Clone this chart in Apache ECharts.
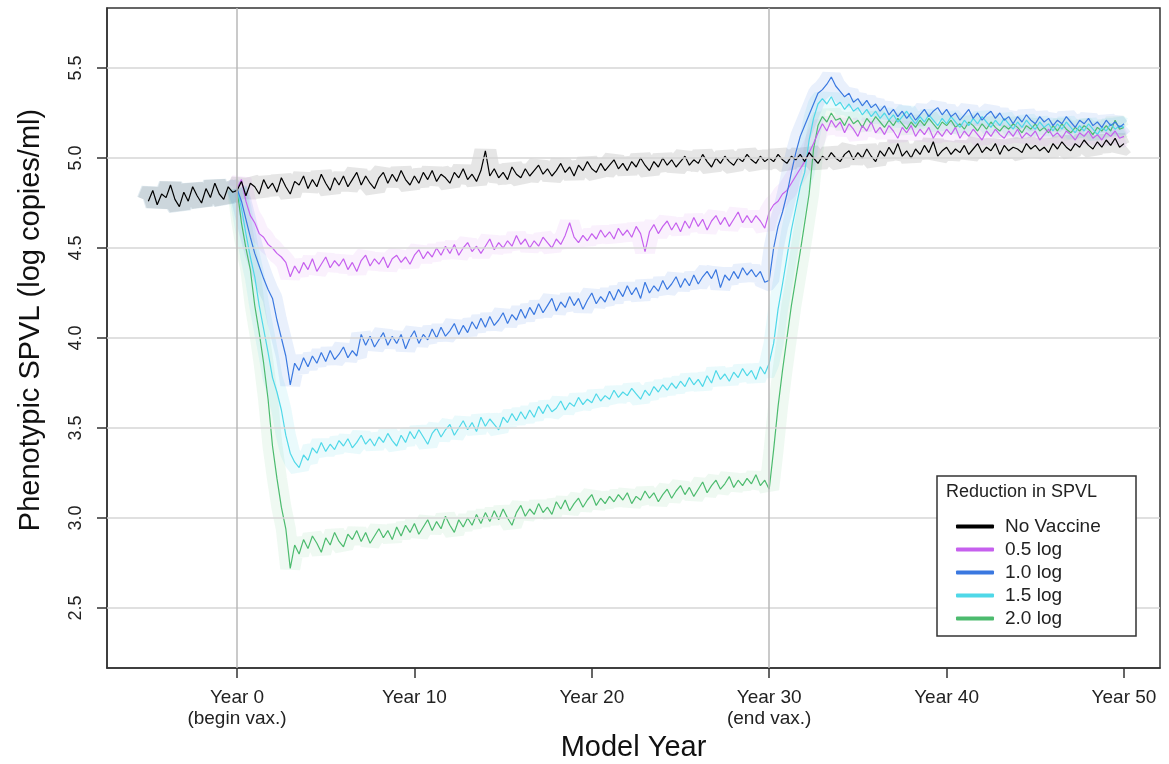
<!DOCTYPE html>
<html>
<head>
<meta charset="utf-8">
<script src="https://cdn.jsdelivr.net/npm/echarts@6/dist/echarts.min.js"></script>
<style>
html,body{margin:0;padding:0;background:#fff;}
#chart{width:1169px;height:764px;}
</style>
</head>
<body>
<div id="chart"></div>
<script>
// ---- data (quarter-year samples) ----
const STEP = 0.25;
const startNoVax = -5;
const startVax = 0;

const noVaccine = [
4.76,4.82,4.74,4.80, 4.78,4.85,4.77,4.73, 4.81,4.76,4.84,4.79, 4.75,4.83,4.78,4.86, 4.80,4.77,4.84,4.81,
4.82,4.87,4.79,4.86, 4.84,4.80,4.88,4.83, 4.86,4.81,4.89,4.84, 4.80,4.87,4.85,4.90, 4.83,4.88,4.84,4.91,
4.86,4.82,4.89,4.85, 4.90,4.84,4.88,4.92, 4.85,4.90,4.86,4.83, 4.89,4.92,4.86,4.91, 4.87,4.93,4.88,4.85,
4.90,4.86,4.92,4.88, 4.93,4.87,4.91,4.89, 4.86,4.92,4.89,4.94, 4.88,4.91,4.87,4.93, 5.04,4.90,4.94,4.89,
4.92,4.88,4.95,4.91, 4.89,4.94,4.90,4.93, 4.96,4.91,4.94,4.90, 4.93,4.97,4.92,4.95, 4.90,4.96,4.93,4.98,
4.94,4.92,4.97,4.93, 4.96,4.99,4.94,4.97, 4.93,4.98,4.95,5.00, 4.96,4.93,4.98,4.95, 5.00,4.96,4.99,4.95,
4.98,5.01,4.96,4.99, 4.97,5.02,4.98,4.95, 5.00,4.97,5.01,4.98, 4.96,5.00,4.98,5.02, 4.99,4.97,5.01,4.98,
5.00,4.98,5.02,4.99, 4.97,5.01,4.99,5.02, 4.98,5.03,5.00,4.97, 5.01,4.99,5.03,5.00, 4.98,5.02,5.04,4.99,
5.03,5.00,5.05,5.01, 4.98,5.04,5.01,5.06, 5.02,5.08,5.01,5.04, 5.00,5.05,5.02,5.07, 5.03,5.09,5.01,5.04,
5.06,5.02,5.05,5.03, 5.07,5.02,5.05,5.08, 5.03,5.06,5.04,5.08, 5.02,5.07,5.04,5.06, 5.05,5.03,5.08,5.05,
5.07,5.04,5.06,5.03, 5.08,5.05,5.09,5.06, 5.04,5.08,5.06,5.10, 5.07,5.05,5.09,5.06, 5.10,5.07,5.11,5.06,
5.08];

const log05 = [
4.83,4.88,4.76,4.68, 4.64,4.58,4.56,4.52, 4.50,4.47,4.45,4.42, 4.34,4.40,4.36,4.42, 4.38,4.44,4.37,4.41,
4.45,4.39,4.43,4.40, 4.44,4.38,4.42,4.37, 4.43,4.46,4.40,4.44, 4.41,4.45,4.39,4.44, 4.46,4.42,4.45,4.41,
4.46,4.49,4.44,4.48, 4.45,4.50,4.46,4.51, 4.47,4.52,4.46,4.50, 4.53,4.48,4.51,4.47, 4.51,4.55,4.49,4.53,
4.50,4.54,4.51,4.57, 4.52,4.55,4.50,4.54, 4.51,4.56,4.53,4.50, 4.55,4.52,4.57,4.64, 4.56,4.53,4.57,4.54,
4.58,4.55,4.60,4.56, 4.59,4.55,4.61,4.57, 4.60,4.56,4.62,4.58, 4.48,4.59,4.63,4.58, 4.62,4.65,4.60,4.64,
4.59,4.65,4.61,4.67, 4.62,4.66,4.60,4.65, 4.68,4.63,4.67,4.62, 4.66,4.70,4.64,4.68, 4.64,4.68,4.65,4.61,
4.70,4.74,4.76,4.80, 4.82,4.86,4.90,4.94, 4.98,5.03,5.08,5.14, 5.19,5.15,5.21,5.17, 5.20,5.14,5.19,5.16,
5.12,5.18,5.15,5.20, 5.14,5.17,5.13,5.18, 5.15,5.11,5.17,5.14, 5.18,5.12,5.16,5.13, 5.17,5.11,5.15,5.12,
5.16,5.13,5.17,5.11, 5.15,5.12,5.16,5.13, 5.10,5.15,5.12,5.16, 5.13,5.11,5.15,5.12, 5.16,5.11,5.14,5.12,
5.15,5.10,5.13,5.16, 5.12,5.14,5.11,5.15, 5.13,5.10,5.14,5.12, 5.15,5.11,5.13,5.10, 5.14,5.12,5.15,5.11,
5.12];

const log10 = [
4.83,4.76,4.66,4.56, 4.47,4.40,4.33,4.27, 4.22,4.10,4.00,3.90, 3.74,3.86,3.82,3.89, 3.84,3.90,3.86,3.92,
3.87,3.93,3.88,3.91, 3.95,3.89,3.93,3.90, 4.02,3.96,4.01,3.95, 3.99,4.03,3.96,4.01, 3.97,4.02,3.94,4.00,
4.04,3.97,4.02,3.99, 4.05,4.00,4.06,4.01, 4.04,4.08,4.02,4.07, 4.03,4.09,4.05,4.11, 4.06,4.12,4.07,4.10,
4.14,4.08,4.13,4.10, 4.16,4.11,4.17,4.13, 4.19,4.14,4.18,4.22, 4.15,4.20,4.17,4.23, 4.18,4.22,4.16,4.21,
4.25,4.19,4.23,4.20, 4.26,4.21,4.27,4.23, 4.29,4.24,4.28,4.22, 4.31,4.25,4.29,4.26, 4.32,4.27,4.30,4.34,
4.28,4.33,4.29,4.35, 4.30,4.34,4.37,4.33, 4.38,4.28,4.35,4.32, 4.37,4.33,4.39,4.35, 4.38,4.34,4.37,4.31,
4.32,4.50,4.62,4.70, 4.80,4.92,5.03,5.12, 5.18,5.24,5.30,5.36, 5.38,5.41,5.45,5.40, 5.37,5.34,5.36,5.31,
5.33,5.29,5.32,5.28, 5.30,5.26,5.29,5.24, 5.27,5.23,5.26,5.22, 5.25,5.21,5.24,5.27, 5.23,5.26,5.28,5.24,
5.27,5.23,5.25,5.21, 5.24,5.27,5.22,5.25, 5.21,5.24,5.26,5.22, 5.25,5.21,5.23,5.19, 5.23,5.20,5.24,5.21,
5.19,5.23,5.20,5.22, 5.18,5.21,5.19,5.23, 5.20,5.17,5.21,5.19, 5.22,5.18,5.20,5.17, 5.21,5.18,5.20,5.17,
5.19];

const log15 = [
4.83,4.72,4.58,4.45, 4.34,4.18,4.05,3.92, 3.78,3.70,3.60,3.46, 3.36,3.31,3.28,3.35, 3.32,3.39,3.36,3.42,
3.37,3.41,3.38,3.43, 3.40,3.44,3.39,3.42, 3.46,3.41,3.44,3.40, 3.45,3.42,3.47,3.43, 3.40,3.46,3.42,3.48,
3.44,3.49,3.45,3.41, 3.47,3.50,3.45,3.49, 3.52,3.46,3.50,3.54, 3.49,3.53,3.48,3.56, 3.51,3.55,3.52,3.49,
3.56,3.53,3.58,3.54, 3.59,3.55,3.60,3.56, 3.62,3.58,3.63,3.59, 3.61,3.65,3.60,3.64, 3.62,3.67,3.63,3.66,
3.64,3.69,3.65,3.68, 3.66,3.71,3.67,3.70, 3.68,3.72,3.69,3.66, 3.71,3.68,3.73,3.70, 3.74,3.71,3.75,3.72,
3.76,3.73,3.78,3.74, 3.77,3.73,3.79,3.75, 3.82,3.77,3.80,3.76, 3.81,3.78,3.83,3.79, 3.82,3.77,3.84,3.80,
3.86,3.97,4.16,4.30, 4.45,4.60,4.72,4.84, 4.92,5.10,5.22,5.30, 5.33,5.30,5.34,5.29, 5.31,5.27,5.30,5.26,
5.28,5.24,5.27,5.23, 5.26,5.22,5.25,5.21, 5.24,5.20,5.23,5.26, 5.22,5.19,5.23,5.20, 5.24,5.21,5.18,5.22,
5.19,5.23,5.20,5.17, 5.21,5.18,5.22,5.19, 5.23,5.20,5.17,5.21, 5.18,5.22,5.19,5.16, 5.20,5.17,5.21,5.18,
5.16,5.20,5.17,5.19, 5.15,5.19,5.16,5.20, 5.17,5.14,5.18,5.15, 5.19,5.16,5.13,5.17, 5.15,5.19,5.16,5.18,
5.17];

const log20 = [
4.83,4.64,4.50,4.38, 4.18,4.03,3.86,3.66, 3.40,3.22,3.06,2.94, 2.72,2.85,2.80,2.88, 2.83,2.90,2.86,2.81,
2.89,2.85,2.92,2.87, 2.84,2.91,2.88,2.93, 2.87,2.92,2.86,2.90, 2.94,2.89,2.93,2.88, 2.95,2.90,2.96,2.92,
2.97,2.91,2.95,2.99, 2.93,2.98,2.94,3.01, 2.96,2.92,2.99,2.95, 3.00,2.96,3.02,2.97, 3.03,2.98,3.04,2.99,
3.05,3.00,2.96,3.03, 3.07,3.01,3.05,3.02, 3.08,3.03,3.06,3.02, 3.09,3.05,3.10,3.04, 3.08,3.11,3.06,3.10,
3.13,3.07,3.11,3.08, 3.12,3.09,3.13,3.10, 3.14,3.08,3.12,3.10, 3.15,3.11,3.14,3.09, 3.13,3.16,3.11,3.15,
3.18,3.13,3.17,3.12, 3.16,3.20,3.14,3.18, 3.21,3.16,3.19,3.23, 3.17,3.21,3.18,3.22, 3.19,3.24,3.18,3.21,
3.16,3.38,3.62,3.82, 4.00,4.18,4.33,4.48, 4.64,4.80,5.05,5.18, 5.23,5.20,5.25,5.21, 5.22,5.18,5.23,5.19,
5.21,5.17,5.22,5.19, 5.23,5.20,5.17,5.21, 5.18,5.22,5.19,5.16, 5.20,5.17,5.21,5.18, 5.22,5.19,5.16,5.20,
5.18,5.21,5.17,5.19, 5.16,5.20,5.18,5.15, 5.19,5.16,5.20,5.17, 5.15,5.18,5.16,5.19, 5.17,5.14,5.18,5.16,
5.19,5.15,5.17,5.14, 5.18,5.15,5.19,5.16, 5.14,5.17,5.15,5.18, 5.16,5.13,5.17,5.15, 5.18,5.15,5.21,5.16,
5.17];

const seriesNames = ['No Vaccine', '0.5 log', '1.0 log', '1.5 log', '2.0 log'];
const xTicks = [0, 10, 20, 30, 40, 50];
const xTickLabels = ['Year 0\n(begin vax.)', 'Year 10', 'Year 20', 'Year 30\n(end vax.)', 'Year 40', 'Year 50'];
const yTicks = [2.5, 3.0, 3.5, 4.0, 4.5, 5.0, 5.5];
const yTickLabels = ['2.5', '3.0', '3.5', '4.0', '4.5', '5.0', '5.5'];
const vLines = [0, 30];

// ---- build ----
function pairs(start, arr) { return arr.map((v, i) => [start + i * STEP, v]); }

const colors = {
  'No Vaccine': '#000000',
  '0.5 log': '#c660ee',
  '1.0 log': '#3a78e0',
  '1.5 log': '#4fd8e8',
  '2.0 log': '#4cbb6e'
};
const bandColors = {
  'No Vaccine': 'rgba(160,160,160,0.26)',
  '0.5 log': 'rgba(198,96,238,0.09)',
  '1.0 log': 'rgba(58,120,224,0.11)',
  '1.5 log': 'rgba(79,216,232,0.12)',
  '2.0 log': 'rgba(76,187,110,0.09)'
};
const dataMap = {
  'No Vaccine': pairs(startNoVax, noVaccine),
  '0.5 log': pairs(startVax, log05),
  '1.0 log': pairs(startVax, log10),
  '1.5 log': pairs(startVax, log15),
  '2.0 log': pairs(startVax, log20)
};
// pre-vaccination part of the no-vaccine run (all scenarios overlap here)
const preVax = dataMap['No Vaccine'].filter(p => p[0] <= 0);

const series = [];
series.push({
  type: 'line', name: '_grid', data: [], silent: true, z: 1,
  markLine: {
    silent: true, symbol: 'none', label: { show: false },
    data: yTicks.map(v => ({ yAxis: v, lineStyle: { color: '#d6d6d6', width: 1.5, type: 'solid' } }))
      .concat(vLines.map(v => ({ xAxis: v, lineStyle: { color: '#b8b8b8', width: 1.5, type: 'solid' } })))
  }
});
['No Vaccine', '2.0 log', '1.5 log', '0.5 log', '1.0 log'].forEach(n => {
  series.push({
    type: 'line', name: n + ' band', data: dataMap[n], showSymbol: false, silent: true, z: 2,
    lineStyle: { color: bandColors[n], width: n === 'No Vaccine' ? 22 : 20, join: 'bevel', cap: 'butt' },
    itemStyle: { color: bandColors[n] }
  });
});
series.push({
  type: 'line', name: 'pre band', data: preVax, showSymbol: false, silent: true, z: 2,
  lineStyle: { color: 'rgba(100,150,180,0.2)', width: 24, join: 'bevel', cap: 'butt' }
});
['2.0 log', '1.5 log', '0.5 log', '1.0 log', 'No Vaccine'].forEach(n => {
  series.push({
    type: 'line', name: n, data: dataMap[n], showSymbol: false, z: 3,
    lineStyle: { color: colors[n], width: 1.2 },
    itemStyle: { color: colors[n] }
  });
});

const chart = echarts.init(document.getElementById('chart'), null, { renderer: 'canvas' });
const FONT = '"Liberation Sans", Arial, sans-serif';
chart.setOption({
  animation: false,
  backgroundColor: '#ffffff',
  grid: { left: 107, right: 9, top: 8, bottom: 96, outerBoundsMode: 'none', containLabel: false,
          show: true, borderColor: '#333', borderWidth: 1.5, backgroundColor: 'transparent' },
  xAxis: {
    type: 'value', min: -7.33, max: 52.03,
    name: 'Model Year', nameLocation: 'middle', nameGap: 64,
    nameTextStyle: { fontSize: 29, color: '#111', fontFamily: FONT },
    axisLine: { show: true, onZero: false, lineStyle: { color: '#333', width: 1.5 } },
    axisTick: { show: true, customValues: xTicks, length: 10, lineStyle: { color: '#333', width: 1.5 } },
    axisLabel: {
      customValues: xTicks, margin: 19, fontSize: 19, color: '#222', fontFamily: FONT, lineHeight: 21,
      formatter: v => { const i = xTicks.indexOf(v); return i >= 0 ? xTickLabels[i] : ''; }
    },
    splitLine: { show: false }
  },
  yAxis: {
    type: 'value', min: 2.1667, max: 5.8333,
    axisLine: { show: true, onZero: false, lineStyle: { color: '#333', width: 1.5 } },
    axisTick: { show: true, customValues: yTicks, length: 10, lineStyle: { color: '#333', width: 1.5 } },
    axisLabel: {
      customValues: yTicks, rotate: 90, margin: 22, fontSize: 18, color: '#222', fontFamily: FONT,
      formatter: v => { const i = yTicks.findIndex(t => Math.abs(t - v) < 1e-6); return i >= 0 ? yTickLabels[i] : ''; }
    },
    splitLine: { show: false }
  },
  legend: {
    data: seriesNames, orient: 'vertical', left: 951, top: 512,
    icon: 'roundRect', itemWidth: 38, itemHeight: 4, itemGap: 4,
    textStyle: { fontSize: 19, color: '#222', fontFamily: FONT, lineHeight: 19, padding: [0, 0, 0, 6] },
    z: 110
  },
  graphic: [
    { type: 'rect', z: 100, shape: { x: 937, y: 476, width: 199, height: 160 },
      style: { fill: '#fff', stroke: '#333', lineWidth: 1.5 } },
    { type: 'text', z: 101, x: 946, y: 483,
      style: { text: 'Reduction in SPVL', fontSize: 18, fill: '#222', fontFamily: FONT } },
    { type: 'text', z: 101, x: 31, y: 320, rotation: Math.PI / 2,
      style: { text: 'Phenotypic SPVL (log copies/ml)', fontSize: 29, fill: '#111', fontFamily: FONT,
               align: 'center', verticalAlign: 'middle' } }
  ],
  series: series
});
</script>
</body>
</html>
